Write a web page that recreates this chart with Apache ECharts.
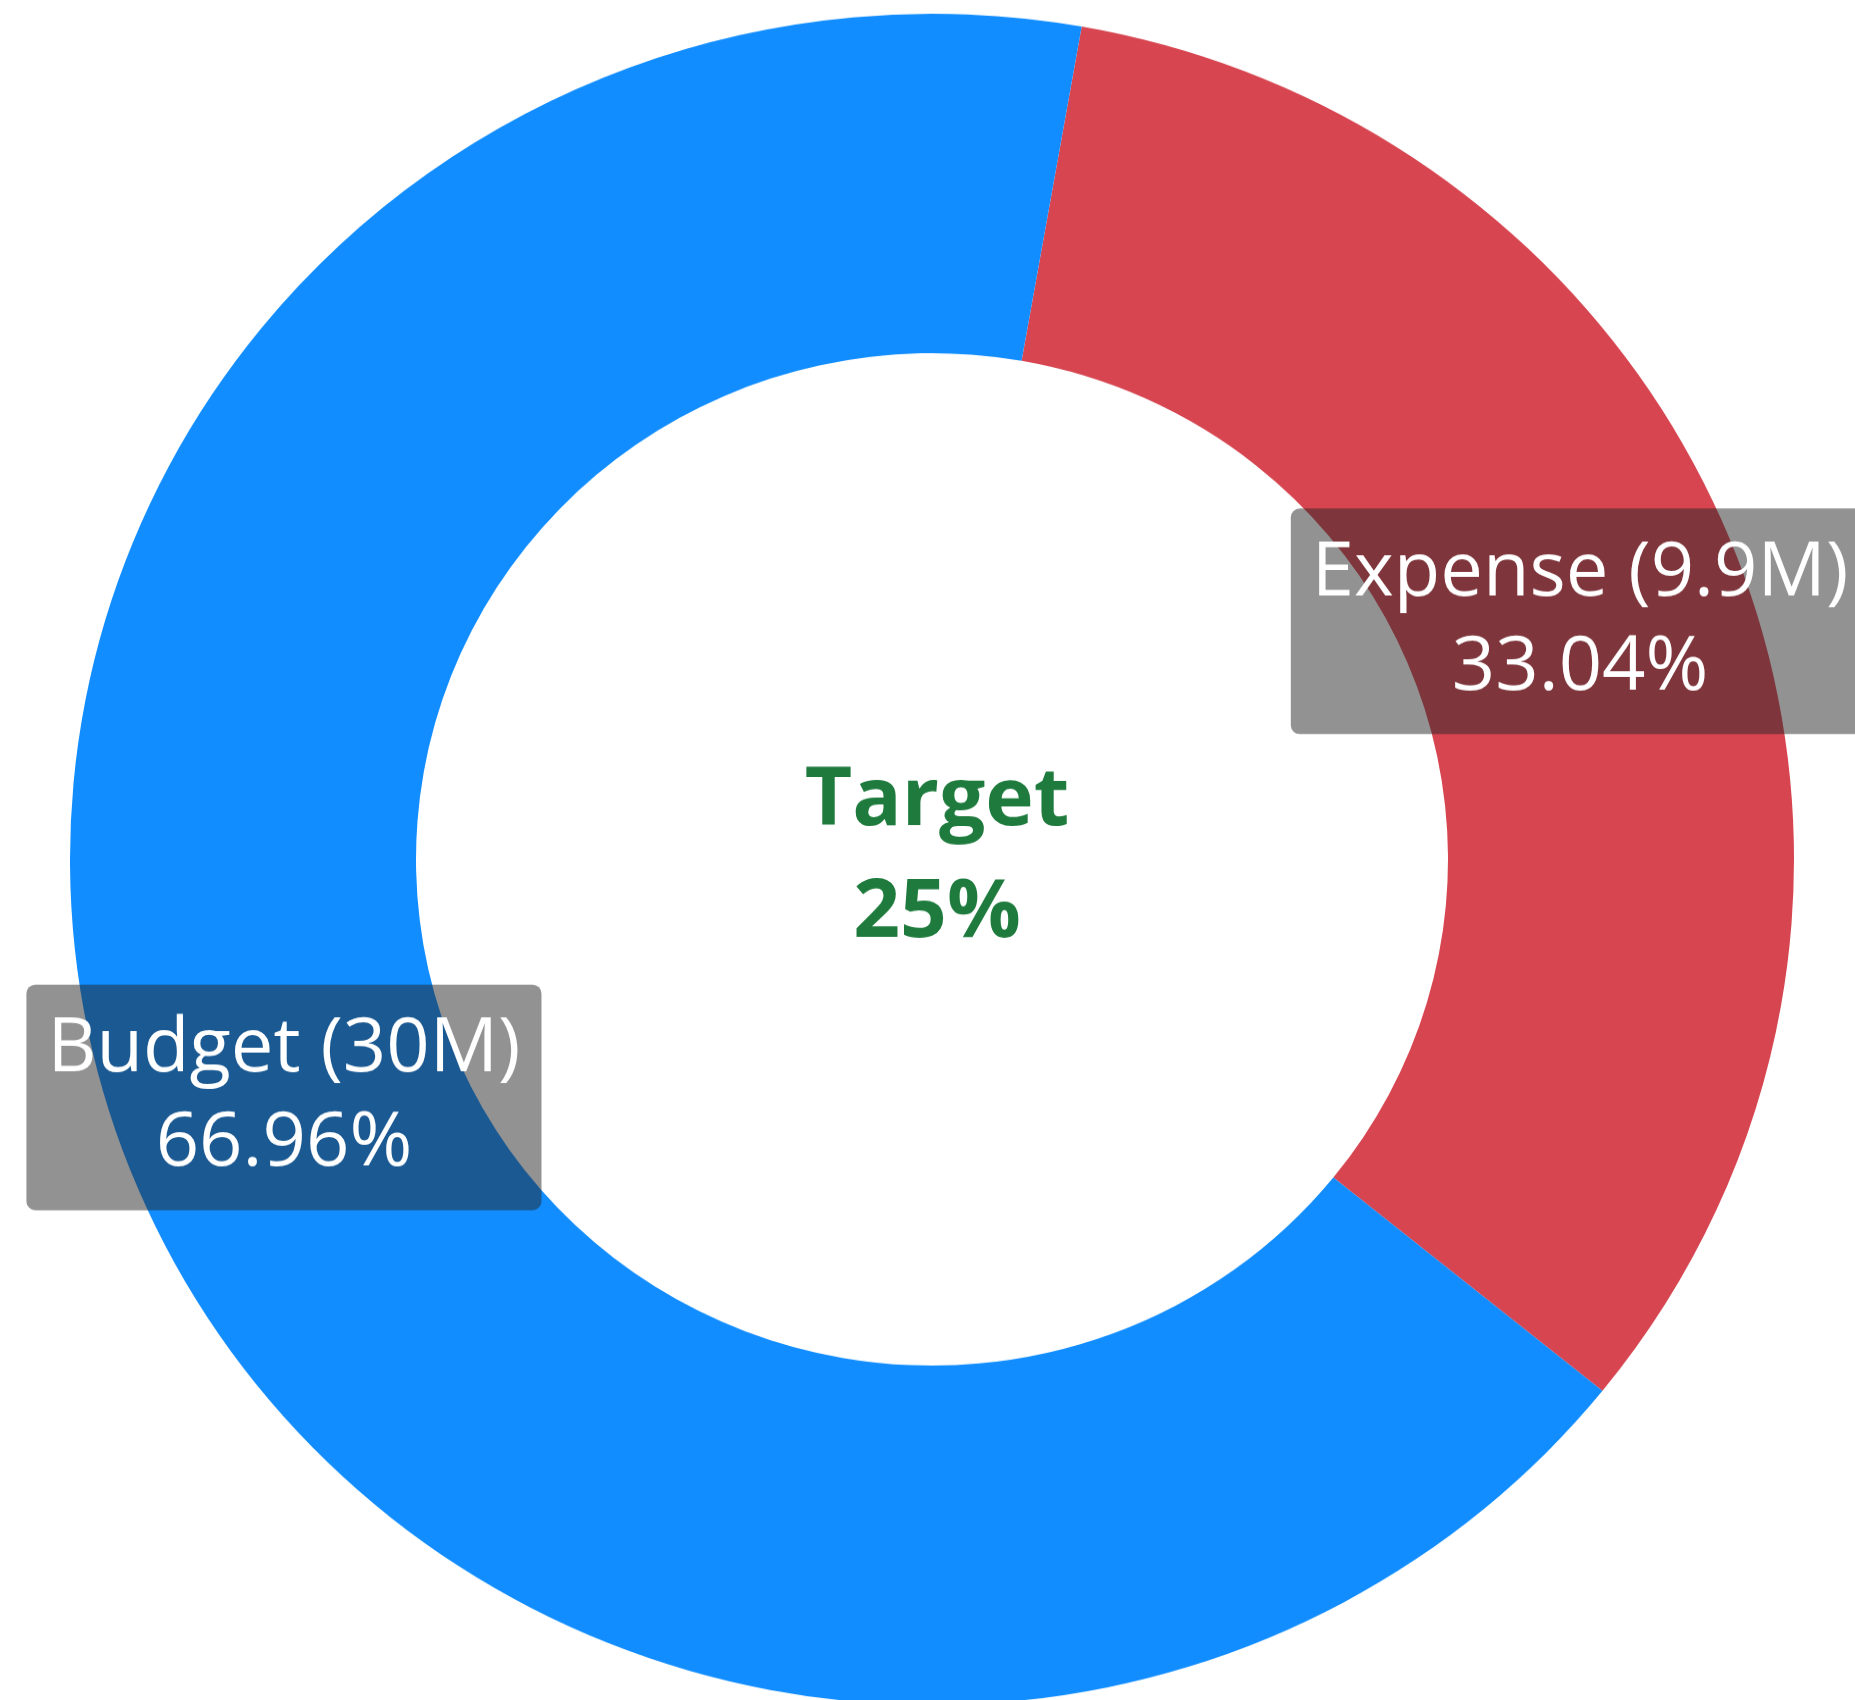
<!DOCTYPE html>
<html>
<head>
<meta charset="utf-8">
<script src="https://cdn.jsdelivr.net/npm/echarts@6/dist/echarts.min.js"></script>
<style>
  html, body { margin: 0; padding: 0; background: #fff; overflow: hidden; }
  /* the reference ring is a touch flatter than a circle, so squash the chart a little */
  #wrap { width: 1855px; height: 1700px; overflow: hidden; }
  #chart { width: 1855px; height: 1733px; transform: scaleY(0.981); transform-origin: 0 0; }
</style>
</head>
<body>
<div id="wrap"><div id="chart"></div></div>
<script>
// data
const categories = ['Expense', 'Budget'];
const amounts = ['9.9M', '30M'];
const shares = [33.04, 66.96];
const colors = ['#D64550', '#118DFF'];
const targetText = ['Target', '25%'];

const chart = echarts.init(document.getElementById('chart'), null, { renderer: 'canvas' });

const option = {
  animation: false,
  title: {
    text: targetText.join('\n'),
    left: 932,
    top: 870,
    textAlign: 'center',
    textVerticalAlign: 'middle',
    textStyle: {
      fontFamily: 'Open Sans',
      fontWeight: 'bold',
      fontSize: 82,
      lineHeight: 114,
      color: '#1E7B3D'
    }
  },
  series: [
    {
      type: 'pie',
      center: [932, 876],
      radius: [516, 862],
      startAngle: 80,
      clockwise: true,
      avoidLabelOverlap: false,
      itemStyle: { borderWidth: 0 },
      emphasis: { disabled: true },
      label: {
        show: true,
        position: 'inside',
        formatter: p => p.name + ' (' + amounts[p.dataIndex] + ')\n' + p.percent.toFixed(2) + '%',
        fontFamily: 'Open Sans',
        fontSize: 76,
        lineHeight: 96,
        color: '#fff',
        backgroundColor: 'rgba(37,37,37,0.5)',
        borderRadius: 9,
        padding: [19, 21]
      },
      labelLine: { show: false },
      data: categories.map((c, i) => ({
        name: c,
        value: shares[i],
        itemStyle: { color: colors[i] }
      }))
    }
  ]
};

chart.setOption(option);
</script>
</body>
</html>
